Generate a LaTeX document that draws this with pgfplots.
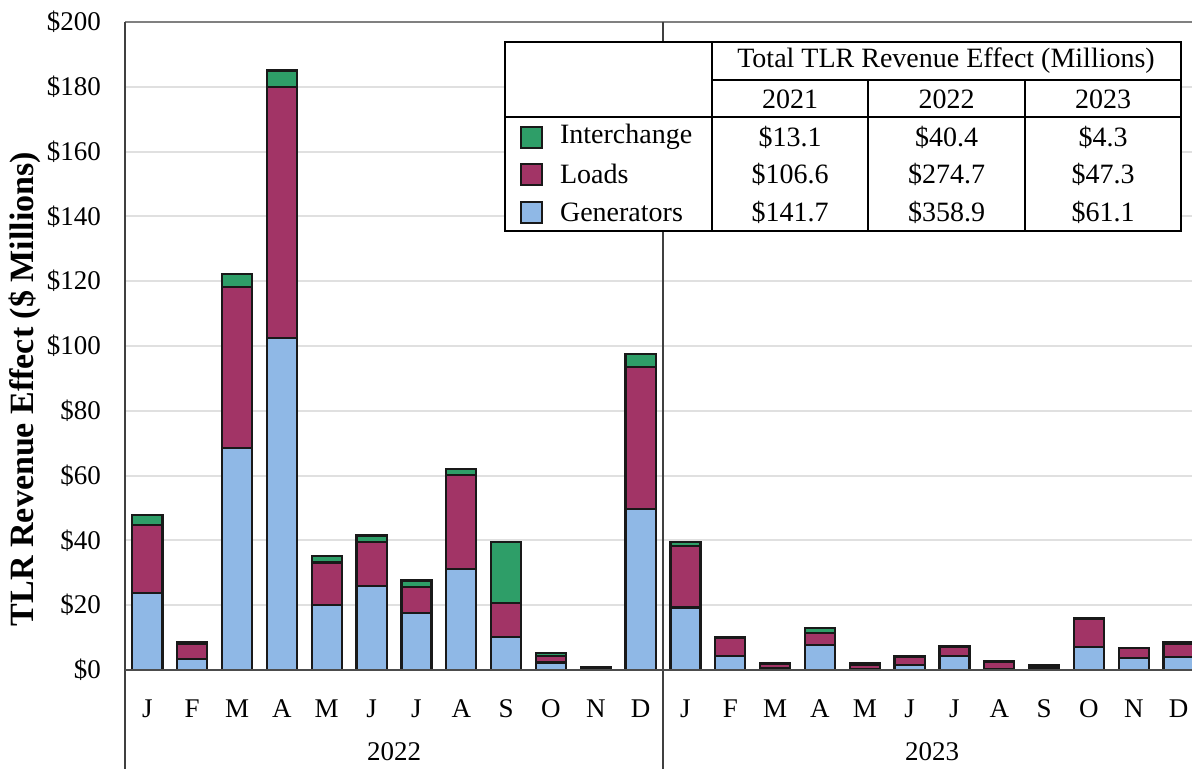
\documentclass[border=0pt]{standalone}
\usepackage{pgfplots}
\pgfplotsset{compat=1.18}
\usepackage{fontspec}
\setmainfont{Liberation Serif}
\definecolor{gen}{HTML}{8FB8E6}
\definecolor{load}{HTML}{A23466}
\definecolor{inter}{HTML}{2E9E68}
\begin{document}
\begin{tikzpicture}
\path[use as bounding box] (0,0) rectangle (596pt,384.5pt);
\begin{axis}[
  at={(62.5pt,49.5pt)}, anchor=south west,
  scale only axis, width=538pt, height=324pt,
  xmin=-0.5, xmax=23.5, ymin=0, ymax=200,
  ybar stacked, bar width=0.67,
  axis line style={draw=none},
  major tick length=0pt,
  ytick={0,20,...,200},
  yticklabels={\$0,\$20,\$40,\$60,\$80,\$100,\$120,\$140,\$160,\$180,\$200},
  ymajorgrids, grid style={black!12, line width=1pt},
  xtick={0,...,23},
  xticklabels={J,F,M,A,M,J,J,A,S,O,N,D,J,F,M,A,M,J,J,A,S,O,N,D},
  tick label style={font=\fontsize{13.5}{16}\selectfont},
  yticklabel style={anchor=east, xshift=-8.5pt},
  xticklabel style={anchor=north, yshift=-11.5pt},
  clip=false,
  every axis plot/.append style={draw=black!90, line width=1.1pt},
]
\addplot[fill=gen] coordinates {
(0,23.7) (1,3.3) (2,68.4) (3,102.4) (4,20.1) (5,25.9) (6,17.5) (7,31.1) (8,10.3) (9,2.3) (10,0.2) (11,49.6)
(12,19.3) (13,4.3) (14,0.6) (15,7.7) (16,0.3) (17,1.6) (18,4.3) (19,0.3) (20,0.2) (21,7.0) (22,3.6) (23,3.9)};
\addplot[fill=load] coordinates {
(0,21.1) (1,4.9) (2,49.8) (3,77.6) (4,13.1) (5,13.5) (6,8.2) (7,29.1) (8,10.5) (9,2.0) (10,0.4) (11,44.0)
(12,19.0) (13,5.5) (14,1.2) (15,3.6) (16,1.2) (17,2.5) (18,2.9) (19,2.2) (20,0.8) (21,8.7) (22,3.1) (23,4.3)};
\addplot[fill=inter] coordinates {
(0,3.0) (1,0.3) (2,4.0) (3,5.0) (4,2.1) (5,2.1) (6,1.9) (7,1.8) (8,18.6) (9,1.0) (10,0.3) (11,3.9)
(12,1.3) (13,0.2) (14,0.3) (15,1.6) (16,0.5) (17,0.2) (18,0.2) (19,0.2) (20,0.5) (21,0.3) (22,0.2) (23,0.3)};
\end{axis}
\begin{scope}[yshift=384.5pt, x=0.5pt, y=-0.5pt]
  \draw[black!50, line width=1pt] (125,22) -- (1192,22);
  \draw[black!75, line width=0.6pt] (125,22) -- (125,769);
  \draw[black!75, line width=0.6pt] (663,22) -- (663,769);
  \draw[black!70, line width=1pt] (125,670) -- (1192,670);
  \node[font=\fontsize{13.5}{16}\selectfont] at (394,752) {2022};
  \node[font=\fontsize{13.5}{16}\selectfont] at (932,752) {2023};
  \node[rotate=90, font=\fontsize{17}{20}\selectfont\bfseries] at (25,389) {TLR Revenue Effect (\$ Millions)};
  % table
  \fill[white] (505,42) rectangle (1181,231);
  \draw[black, line width=1pt] (505,42) rectangle (1181,231);
  \draw[black, line width=1pt] (712,42) -- (712,231);
  \draw[black, line width=1pt] (868,80) -- (868,231);
  \draw[black, line width=1pt] (1025,80) -- (1025,231);
  \draw[black, line width=1pt] (712,80) -- (1181,80);
  \draw[black, line width=1pt] (505,117) -- (1181,117);
  \begin{scope}[every node/.style={font=\fontsize{14}{16}\selectfont}]
    \node at (946,61) {Total TLR Revenue Effect (Millions)};
    \node at (790,99) {2021};
    \node at (946.5,99) {2022};
    \node at (1103,99) {2023};
    \node at (790,137) {\$13.1};
    \node at (946.5,137) {\$40.4};
    \node at (1103,137) {\$4.3};
    \node at (790,174) {\$106.6};
    \node at (946.5,174) {\$274.7};
    \node at (1103,174) {\$47.3};
    \node at (790,212) {\$141.7};
    \node at (946.5,212) {\$358.9};
    \node at (1103,212) {\$61.1};
    \node[anchor=west] at (553,137) {Interchange};
    \node[anchor=west] at (553,174) {Loads};
    \node[anchor=west] at (553,212) {Generators};
  \end{scope}
  \draw[fill=inter, draw=black!90, line width=1.1pt] (521,127) rectangle (542,148);
  \draw[fill=load, draw=black!90, line width=1.1pt] (521,164) rectangle (542,185);
  \draw[fill=gen, draw=black!90, line width=1.1pt] (521,202) rectangle (542,223);
\end{scope}
\end{tikzpicture}
\end{document}
